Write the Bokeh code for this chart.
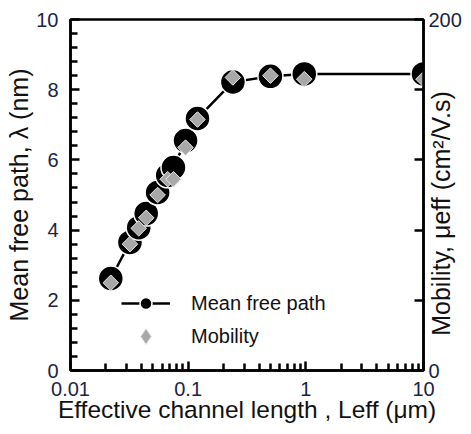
import math
from bokeh.plotting import figure
from bokeh.models import (Range1d, LinearAxis, FixedTicker, Legend, LegendItem,
                          ColumnDataSource)
from bokeh.embed import file_html
from bokeh.resources import INLINE

# ---------------- data ----------------
channel_length_um = [0.022, 0.032, 0.038, 0.044, 0.055, 0.067, 0.075, 0.095,
                     0.12, 0.24, 0.5, 0.97, 10.0]
mean_free_path_nm = [2.62, 3.65, 4.07, 4.47, 5.07, 5.56, 5.78, 6.55,
                     7.18, 8.22, 8.38, 8.45, 8.45]
mobility_cm2_Vs = [50, 72, 81, 87, 100, 109, 109, 127,
                   143, 167, 168, 166, 166]

x_ticks = [0.01, 0.1, 1.0, 10.0]
x_tick_labels = ["0.01", "0.1", "1", "10"]
y_ticks = [0, 2, 4, 6, 8, 10]
y2_ticks = [0, 40, 80, 120, 160, 200]
y2_tick_labels = ["0", "", "", "", "", "200"]

series_names = ["Mean free path", "Mobility"]
x_title = "Effective channel length , Leff (\u03bcm)"
y_title = "Mean free path, \u03bb (nm)"
y2_title = "Mobility, \u03bceff  (cm\u00b2/V.s)"

# ---------------- figure ----------------
FONT = "Liberation Sans"
TICK_COLOR = "#1a2447"
TEXT_COLOR = "#111111"

p = figure(width=471, height=434, x_axis_type="log",
           x_range=Range1d(0.01, 10), y_range=Range1d(0, 10),
           output_backend="svg", toolbar_location=None,
           min_border_left=70, min_border_right=48,
           min_border_top=19, min_border_bottom=64)
p.extra_y_ranges = {"mob": Range1d(0, 200)}
p.grid.visible = False
p.outline_line_color = "black"
p.outline_line_width = 2.5
p.background_fill_color = "white"
p.border_fill_color = "white"

xa = p.xaxis[0]
ya = p.yaxis[0]
xa.ticker = FixedTicker(ticks=x_ticks,
                        minor_ticks=[m * d for d in x_ticks[:-1] for m in range(2, 10)])
xa.major_label_overrides = dict(zip(x_ticks, x_tick_labels))
ya.ticker = FixedTicker(ticks=y_ticks,
                        minor_ticks=[i * 0.4 for i in range(26) if i % 5])

ra = LinearAxis(y_range_name="mob", ticker=FixedTicker(ticks=y2_ticks, minor_ticks=[]))
ra.major_label_overrides = dict(zip(y2_ticks, y2_tick_labels))
p.add_layout(ra, "right")

for ax in (xa, ya, ra):
    ax.axis_line_width = 2.5
    ax.major_tick_line_width = 2.5
    ax.minor_tick_line_width = 2.5
    ax.major_tick_out = 0
    ax.major_tick_in = 9
    ax.minor_tick_out = 0
    ax.minor_tick_in = 7
    ax.major_label_text_font = FONT
    ax.major_label_text_font_size = "20px"
    ax.major_label_text_color = TICK_COLOR
    ax.axis_label_text_font = FONT
    ax.axis_label_text_font_style = "normal"
    ax.axis_label_text_color = TEXT_COLOR
    ax.axis_label_text_font_size = "25px"

xa.major_label_standoff = 11
ya.major_label_standoff = 12
ra.major_label_standoff = 5

xa.axis_label = x_title
xa.axis_label_text_font_size = "24.5px"
xa.axis_label_standoff = -3
ya.axis_label = y_title
ya.axis_label_standoff = 0
# right title reads bottom-to-top, starting a little above the axis start
ra.axis_label = "\u00a0" * 5 + y2_title
ra.axis_label_orientation = math.pi / 2
ra.axis_label_align = "start"
ra.axis_label_standoff = -24

# ---------------- glyphs ----------------
src = ColumnDataSource(dict(L=channel_length_um, mfp=mean_free_path_nm,
                            mob=mobility_cm2_Vs))
line_r = p.line("L", "mfp", source=src, line_color="black", line_width=2.5)
circ_r = p.scatter("L", "mfp", source=src, marker="circle", size=25,
                   fill_color="black", line_color="white", line_width=1.5)
# diamond swatch used by the legend; drawn underneath the rotated squares
dia_key = p.scatter("L", "mob", source=src, y_range_name="mob", marker="diamond",
                    size=13, fill_color="#a8a8a8", line_color="#e8e8e8", line_width=1)
dia_r = p.scatter("L", "mob", source=src, y_range_name="mob", marker="square",
                  angle=math.pi / 4, size=11, fill_color="#a8a8a8",
                  line_color="#e8e8e8", line_width=1)

common = dict(glyph_width=49, padding=0, margin=0, label_standoff=21,
              border_line_alpha=0, background_fill_alpha=0,
              label_text_font=FONT, label_text_font_size="20px",
              label_text_color=TEXT_COLOR)
legend_a = Legend(items=[LegendItem(label=series_names[0], renderers=[line_r, circ_r])],
                  location=(51, 52), glyph_height=30, label_height=30, **common)
legend_b = Legend(items=[LegendItem(label=series_names[1], renderers=[dia_key])],
                  location=(51, 14), glyph_height=40, label_height=40, **common)
p.add_layout(legend_a)
p.add_layout(legend_b)

open("out.html", "w").write(file_html(p, INLINE))
